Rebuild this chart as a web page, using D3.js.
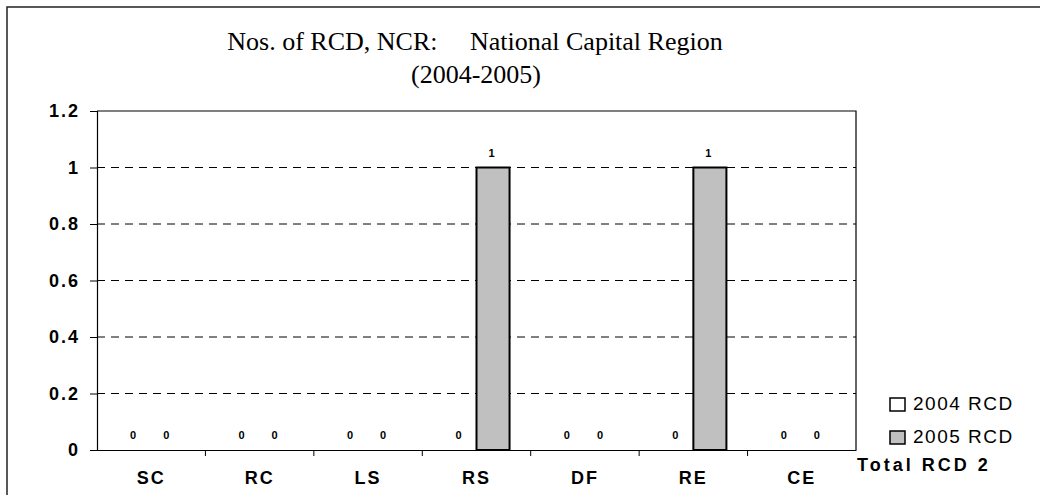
<!DOCTYPE html>
<html><head><meta charset="utf-8">
<script src="https://cdn.jsdelivr.net/npm/d3@7"></script>
<style>body{margin:0;background:#fff}svg{display:block}</style>
</head><body>
<svg id="c" width="1040" height="495"></svg>
<script>
const categories = ["SC","RC","LS","RS","DF","RE","CE"];
const seriesNames = ["2004 RCD","2005 RCD"];
const values2004 = [0,0,0,0,0,0,0];
const values2005 = [0,0,0,1,0,1,0];
const yTicks = [0,0.2,0.4,0.6,0.8,1,1.2];
const yTickLabels = ["0","0.2","0.4","0.6","0.8","1","1.2"];
const titleLines = ["Nos. of RCD, NCR:     National Capital Region","(2004-2005)"];
const totalLabel = "Total RCD";
const totalValue = 2;

const svg = d3.select("#c");
const colors = ["#ffffff","#c0c0c0"];
const m = {left:97, right:856, top:111, bottom:450};
const sans = "Arial, 'Liberation Sans', sans-serif";
const serif = "'Liberation Serif', 'Times New Roman', serif";

// outer border
svg.append("rect").attr("x",7).attr("y",7).attr("width",1060).attr("height",520)
  .attr("fill","none").attr("stroke","#222").attr("stroke-width",1.5);

const x = d3.scaleBand().domain(categories).range([m.left,m.right]).paddingInner(0).paddingOuter(0);
const x1 = d3.scaleBand().domain(seriesNames).range([0,x.bandwidth()]).paddingInner(0).paddingOuter(0.64);
const y = d3.scaleLinear().domain([0,1.2]).range([m.bottom,m.top]);

// gridlines
svg.append("g").selectAll("line").data(yTicks.filter(d=>d>0 && d<1.2)).join("line")
  .attr("x1",m.left).attr("x2",m.right).attr("y1",d=>y(d)).attr("y2",d=>y(d))
  .attr("stroke","#000").attr("stroke-width",1).attr("stroke-dasharray","8,6");

// plot border top/right
svg.append("path").attr("d",`M${m.left},${y(1.2)}H${m.right}V${m.bottom}`)
  .attr("fill","none").attr("stroke","#000").attr("stroke-width",1.2);

// y axis
const yAxis = d3.axisLeft(y).tickValues(yTicks).tickFormat((d,i)=>yTickLabels[i]).tickSize(7).tickPadding(10);
const gy = svg.append("g").attr("transform",`translate(${m.left},0)`).call(yAxis);
gy.select(".domain").attr("stroke","#000").attr("stroke-width",1.2);
gy.selectAll("text").attr("font-family",sans)
  .attr("font-size",18).attr("font-weight","bold").attr("letter-spacing","2px").attr("fill","#000");

// bars
const data = [];
categories.forEach((c,i)=>{
  data.push({cat:c, s:seriesNames[0], v:values2004[i], col:colors[0]});
  data.push({cat:c, s:seriesNames[1], v:values2005[i], col:colors[1]});
});
svg.append("g").selectAll("rect").data(data).join("rect")
  .attr("x",d=>x(d.cat)+x1(d.s)).attr("width",x1.bandwidth())
  .attr("y",d=>y(d.v)).attr("height",d=>y(0)-y(d.v))
  .attr("fill",d=>d.col).attr("stroke","#000").attr("stroke-width",2);

// value labels
svg.append("g").selectAll("text").data(data).join("text")
  .attr("x",d=>x(d.cat)+x1(d.s)+x1.bandwidth()/2 - 1.5)
  .attr("y",d=>y(d.v)-11)
  .attr("text-anchor","middle")
  .attr("font-family",sans).attr("font-size",11).attr("font-weight","bold")
  .text(d=>d.v);

// x axis
const xAxis = d3.axisBottom(x).tickSize(0).tickPadding(21);
const gx = svg.append("g").attr("transform",`translate(0,${m.bottom})`).call(xAxis);
gx.select(".domain").attr("stroke","#000").attr("stroke-width",1.2);
gx.selectAll("text").attr("font-family",sans)
  .attr("font-size",18).attr("font-weight","bold").attr("letter-spacing","2px").attr("fill","#000");
// category separators ticks
svg.append("g").selectAll("line").data(categories.slice(1)).join("line")
  .attr("x1",d=>x(d)).attr("x2",d=>x(d)).attr("y1",m.bottom).attr("y2",m.bottom+6)
  .attr("stroke","#000").attr("stroke-width",1);

// title
svg.append("text").attr("x",475).attr("y",50).attr("text-anchor","middle").attr("font-family",serif)
  .attr("font-size",26).attr("fill","#000").attr("xml:space","preserve").style("white-space","pre").text(titleLines[0]);
svg.append("text").attr("x",476).attr("y",83).attr("text-anchor","middle").attr("font-family",serif)
  .attr("font-size",26).attr("fill","#000").text(titleLines[1]);

// legend
const lg = svg.append("g");
seriesNames.forEach((s,i)=>{
  const yy = 398 + i*33;
  lg.append("rect").attr("x",890).attr("y",yy).attr("width",15).attr("height",13)
    .attr("fill",colors[i]).attr("stroke","#000").attr("stroke-width",1.5);
  lg.append("text").attr("x",913).attr("y",yy+11.5).attr("font-family",sans)
    .attr("font-size",19).attr("letter-spacing","1.5px").text(s);
});
svg.append("text").attr("x",857).attr("y",471).attr("font-family",sans)
  .attr("font-size",18).attr("font-weight","bold").attr("letter-spacing","3px")
  .attr("xml:space","preserve").style("white-space","pre").text(totalLabel + " " + totalValue);
</script>
</body></html>
